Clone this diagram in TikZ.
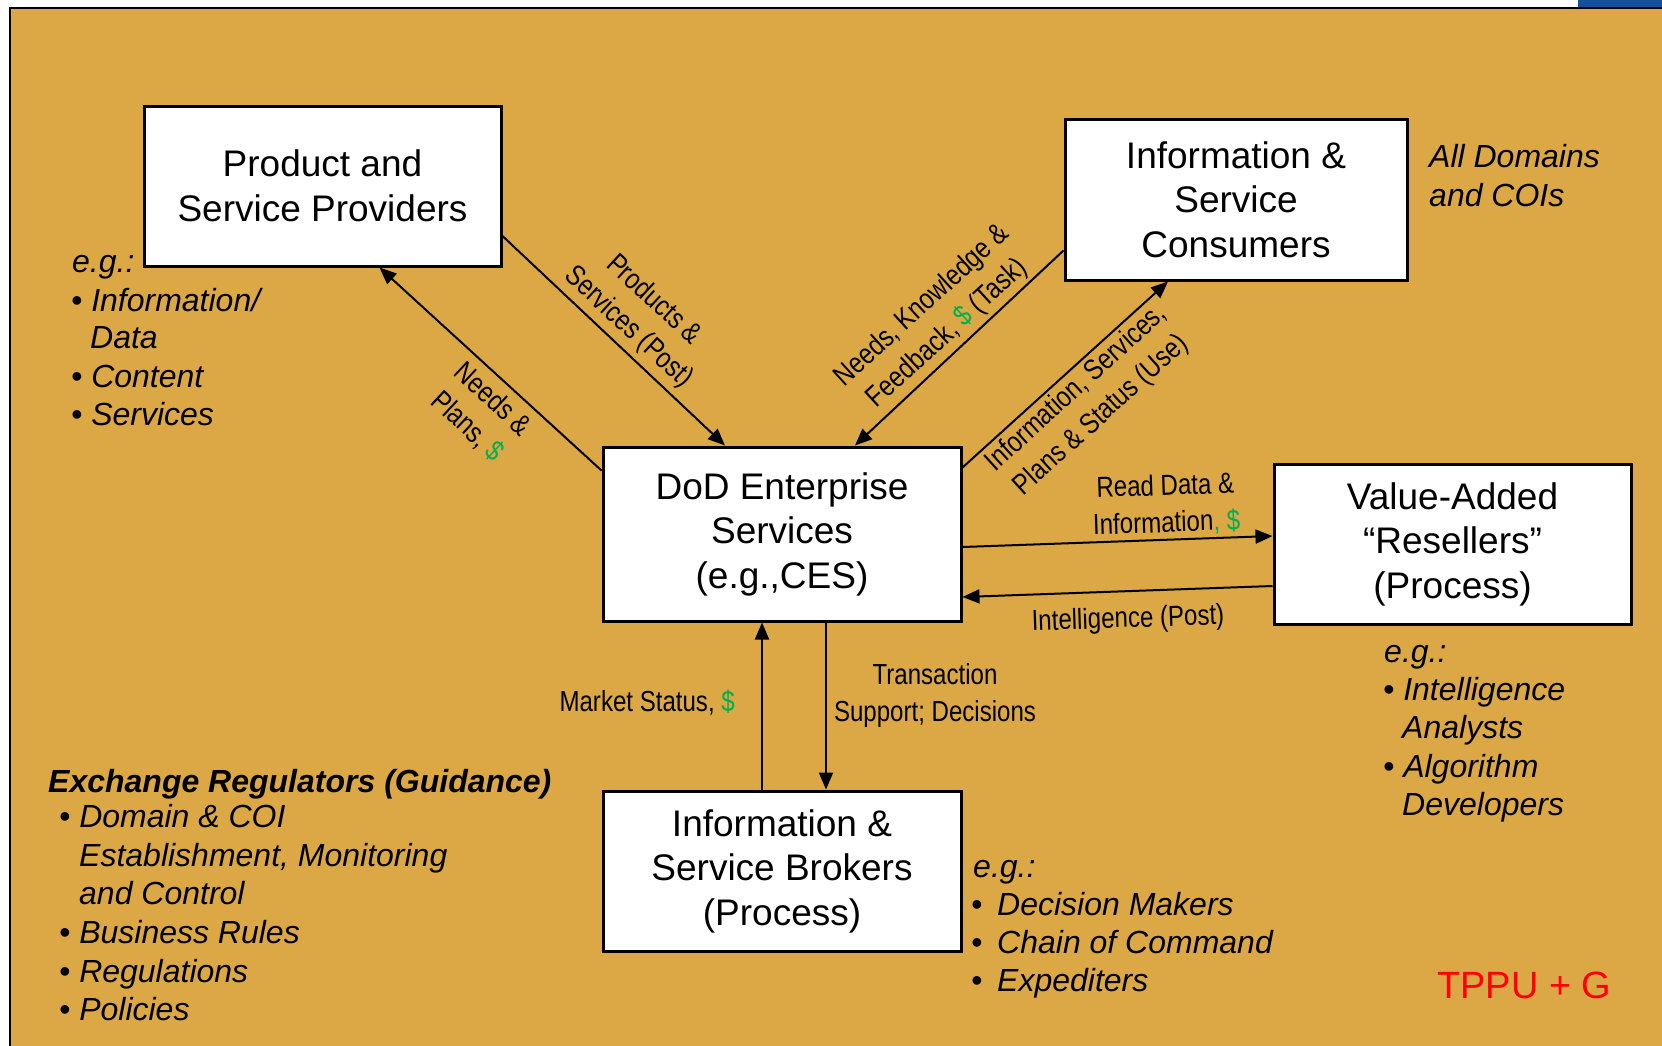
\documentclass[tikz,border=0pt]{standalone}
\usepackage{fontspec}
\setmainfont{Liberation Sans}
\newfontfamily\narrowfont[FakeStretch=0.83]{Liberation Sans}
\usetikzlibrary{arrows.meta}
\definecolor{bgorange}{HTML}{DBA845}
\definecolor{topblue}{HTML}{1550A0}
\definecolor{dollar}{HTML}{00B050}
\newcommand{\dol}{\textcolor{dollar}{\$}}
\begin{document}
\begin{tikzpicture}[x=1pt,y=-1pt,
  box/.style={draw=black, line width=3pt, fill=white, inner sep=0pt, align=center,
    font=\fontsize{37}{44.5}\selectfont},
  lst/.style={anchor=base west, inner sep=0pt, font=\fontsize{32}{38}\selectfont\itshape},
  lbl/.style={inner sep=0pt, align=center, font=\narrowfont\fontsize{29}{37}\selectfont},
  conn/.style={line width=2pt, -{Triangle[length=17pt,width=14pt]}},
]
\useasboundingbox (0,0) rectangle (1662,1045);
\fill[white] (0,0) rectangle (1662,1045);
\fill[topblue] (1578,0) rectangle (1662,7);
\draw[line width=2pt, fill=bgorange] (10,8) rectangle (1675,1060);

% boxes
\node[box, minimum width=357, minimum height=160] (prod) at (322.5,186) {Product and\\Service Providers};
\node[box, minimum width=342, minimum height=161] (cons) at (1236,199.5) {Information \&\\Service\\Consumers};
\node[box, minimum width=358, minimum height=174] (dod) at (782,534) {DoD Enterprise\\Services\\(e.g.,CES)};
\node[box, minimum width=357, minimum height=160] (va) at (1452.5,544) {Value-Added\\``Resellers''\\(Process)};
\node[box, minimum width=358, minimum height=160] (brok) at (782,871) {Information \&\\Service Brokers\\(Process)};

% connectors
\draw[conn] ([yshift=-50pt]prod.east) -- ([xshift=-57pt]dod.north);
\draw[conn] ([yshift=-25pt]dod.north west) -- ([xshift=57pt]prod.south);
\draw[conn] ([yshift=-51pt]cons.west) -- ([xshift=73pt]dod.north);
\draw[conn] ([yshift=-22pt]dod.north east) -- ([xshift=-68pt]cons.south);
\draw[conn] ([yshift=-13pt]dod.east) -- ([yshift=8pt]va.west);
\draw[conn] ([yshift=-42pt]va.west) -- ([yshift=-63pt]dod.east);
\draw[conn] ([xshift=-20pt]brok.north) -- ([xshift=-20pt]dod.south);
\draw[conn] ([xshift=44pt]dod.south) -- ([xshift=44pt]brok.north);

% connector labels
\node[lbl, rotate=-42.6] (lprod) at (641,314) {Products \&\\Services (Post)};
\node[lbl, rotate=-43] (lneeds) at (480,413) {Needs \&\\Plans, \dol};
\node[lbl, rotate=42.4] (lknow) at (935,320) {Needs, Knowledge \&\\Feedback, \dol{} (Task)};
\node[lbl, rotate=42.2] (linfo) at (1089,402) {Information, Services,\\Plans \& Status (Use)};
\node[lbl, rotate=2] (lread) at (1166,505) {Read Data \&\\Information\textcolor{dollar}{, \$}};
\node[lbl, rotate=2] (lintel) at (1128,620) {Intelligence (Post)};
\node[lbl, anchor=base east] (lmarket) at (735,711) {Market Status, \dol};
\node[lbl, anchor=base] (ltrans) at (935,721) {Transaction\\Support; Decisions};

% provider examples
\node[lst] (p0) at (72,272) {e.g.:};
\node[lst] (p1) at (71,311) {• Information/};
\node[lst] (p2) at (90,348) {Data};
\node[lst] (p3) at (71,387) {• Content};
\node[lst] (p4) at (71,425) {• Services};

% consumers note
\node[lst] (c1) at (1429,167) {All Domains};
\node[lst] (c2) at (1429,206) {and COIs};

% value-added examples
\node[lst] (v0) at (1384,662) {e.g.:};
\node[lst] (v1) at (1383,700) {• Intelligence};
\node[lst] (v2) at (1402,738) {Analysts};
\node[lst] (v3) at (1383,777) {• Algorithm};
\node[lst] (v4) at (1402,815) {Developers};

% broker examples
\node[lst] (b0) at (973,877) {e.g.:};
\node[lst] (b1d) at (971,915) {•};
\node[lst] (b1) at (997,915) {Decision Makers};
\node[lst] (b2d) at (971,953) {•};
\node[lst] (b2) at (997,953) {Chain of Command};
\node[lst] (b3d) at (971,991) {•};
\node[lst] (b3) at (997,991) {Expediters};

% exchange regulators
\node[lst, font=\fontsize{32}{38}\selectfont\bfseries\itshape] (e0) at (48,792) {Exchange Regulators (Guidance)};
\node[lst] (e1) at (59,827) {• Domain \& COI};
\node[lst] (e2) at (79,866) {Establishment, Monitoring};
\node[lst] (e3) at (79,904) {and Control};
\node[lst] (e4) at (59,943) {• Business Rules};
\node[lst] (e5) at (59,982) {• Regulations};
\node[lst] (e6) at (59,1020) {• Policies};

% tag
\node[anchor=base west, inner sep=0pt, text=red, font=\fontsize{38}{44}\selectfont] (tag) at (1437,998) {TPPU + G};
\end{tikzpicture}
\end{document}
